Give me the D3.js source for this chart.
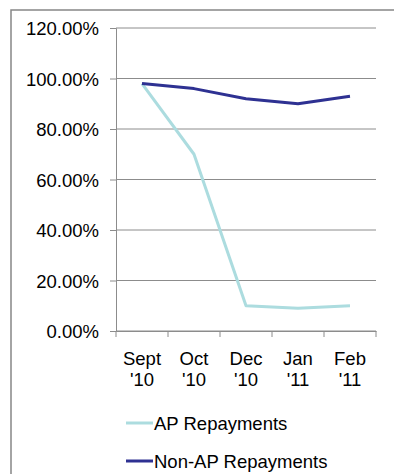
<!DOCTYPE html>
<html lang="en">
    <head>
        <meta charset="utf-8" />
        <script src="https://cdnjs.cloudflare.com/ajax/libs/d3/7.8.5/d3.min.js"></script>
        <style>
            body { margin: 0; background: #fff; }
            text { font-family: "Liberation Sans", Arial, sans-serif; fill: #000; }
        </style>
        <title>Repayments</title>
    </head>
    <body>
        <div id="chart"></div>
        <script>

        // Data
        const months = ['Sept|\'10', 'Oct|\'10', 'Dec|\'10', 'Jan|\'11', 'Feb|\'11'];
        const apRepayments = [0.98, 0.70, 0.10, 0.09, 0.10];
        const nonApRepayments = [0.98, 0.96, 0.92, 0.90, 0.93];
        const yTicks = [0, 0.2, 0.4, 0.6, 0.8, 1.0, 1.2];
        const seriesNames = ['AP Repayments', 'Non-AP Repayments'];
        const seriesColors = ['#acdcdf', '#2e3192'];

        const width = 394;
        const height = 474;
        const margin = { top: 28, bottom: 143, left: 116, right: 18 };
        const plotW = width - margin.left - margin.right;
        const plotH = height - margin.top - margin.bottom;
        const fontSize = '18.5px';

        const svg = d3
            .select('#chart')
            .append('svg')
            .attr('width', width)
            .attr('height', height);

        // outer frame (right and bottom edges fall outside the picture)
        svg.append('rect')
            .attr('x', 11)
            .attr('y', 10)
            .attr('width', 400)
            .attr('height', 480)
            .attr('fill', 'none')
            .attr('stroke', '#878787')
            .attr('stroke-width', 1.5);

        const g = svg.append('g')
            .attr('transform', `translate(${margin.left}, ${margin.top})`);

        //Axis
        const x = d3.scaleBand().domain(months).range([0, plotW]);
        const y = d3.scaleLinear().domain([0, 1.2]).range([plotH, 0]);

        // gridlines
        g.append('g')
            .selectAll('line')
            .data(yTicks)
            .enter()
            .append('line')
            .attr('x1', 0)
            .attr('x2', plotW)
            .attr('y1', (d) => y(d))
            .attr('y2', (d) => y(d))
            .attr('stroke', '#8c8c8c')
            .attr('stroke-width', 1);

        const yAxis = g.append('g')
            .call(d3.axisLeft(y).tickValues(yTicks).tickSize(6).tickPadding(11)
                .tickFormat((d) => (d * 100).toFixed(2) + '%'));
        yAxis.select('.domain').attr('stroke', '#8c8c8c');
        yAxis.selectAll('.tick line').attr('stroke', '#8c8c8c');
        yAxis.selectAll('text').attr('font-size', fontSize).attr('dy', '0.36em');

        const xAxis = g.append('g')
            .attr('transform', `translate(0, ${plotH})`)
            .call(d3.axisBottom(x).tickSize(0).tickFormat(''));
        xAxis.select('.domain').attr('stroke', '#8c8c8c');

        // category boundary ticks
        const bounds = months.map((m) => x(m)).concat([plotW]);
        xAxis.selectAll('.bound')
            .data(bounds)
            .enter()
            .append('line')
            .attr('x1', (d) => d)
            .attr('x2', (d) => d)
            .attr('y1', 0)
            .attr('y2', 6)
            .attr('stroke', '#8c8c8c');

        // two-line category labels
        const labels = xAxis.selectAll('.lbl')
            .data(months)
            .enter()
            .append('text')
            .attr('text-anchor', 'middle')
            .attr('font-size', fontSize)
            .attr('x', (d) => x(d) + x.bandwidth() / 2)
            .attr('y', 34);
        labels.append('tspan')
            .attr('x', (d) => x(d) + x.bandwidth() / 2)
            .text((d) => d.split('|')[0]);
        labels.append('tspan')
            .attr('x', (d) => x(d) + x.bandwidth() / 2)
            .attr('dy', 21)
            .text((d) => d.split('|')[1]);

        //Lines
        const line = d3.line()
            .x((d, i) => x(months[i]) + x.bandwidth() / 2)
            .y((d) => y(d));

        [apRepayments, nonApRepayments].forEach((vals, i) => {
            g.append('path')
                .datum(vals)
                .attr('d', line)
                .attr('fill', 'none')
                .attr('stroke', seriesColors[i])
                .attr('stroke-width', 3)
                .attr('stroke-linejoin', 'round');
        });

        //Legend
        const legend = svg.append('g')
            .selectAll('g')
            .data(seriesNames)
            .enter()
            .append('g')
            .attr('transform', (d, i) => `translate(126, ${423 + i * 38})`);
        legend.append('line')
            .attr('x1', 0)
            .attr('x2', 27)
            .attr('stroke', (d, i) => seriesColors[i])
            .attr('stroke-width', 3);
        legend.append('text')
            .attr('x', 28)
            .attr('dy', '0.36em')
            .attr('font-size', fontSize)
            .text((d) => d);

        </script>
    </body>
</html>
